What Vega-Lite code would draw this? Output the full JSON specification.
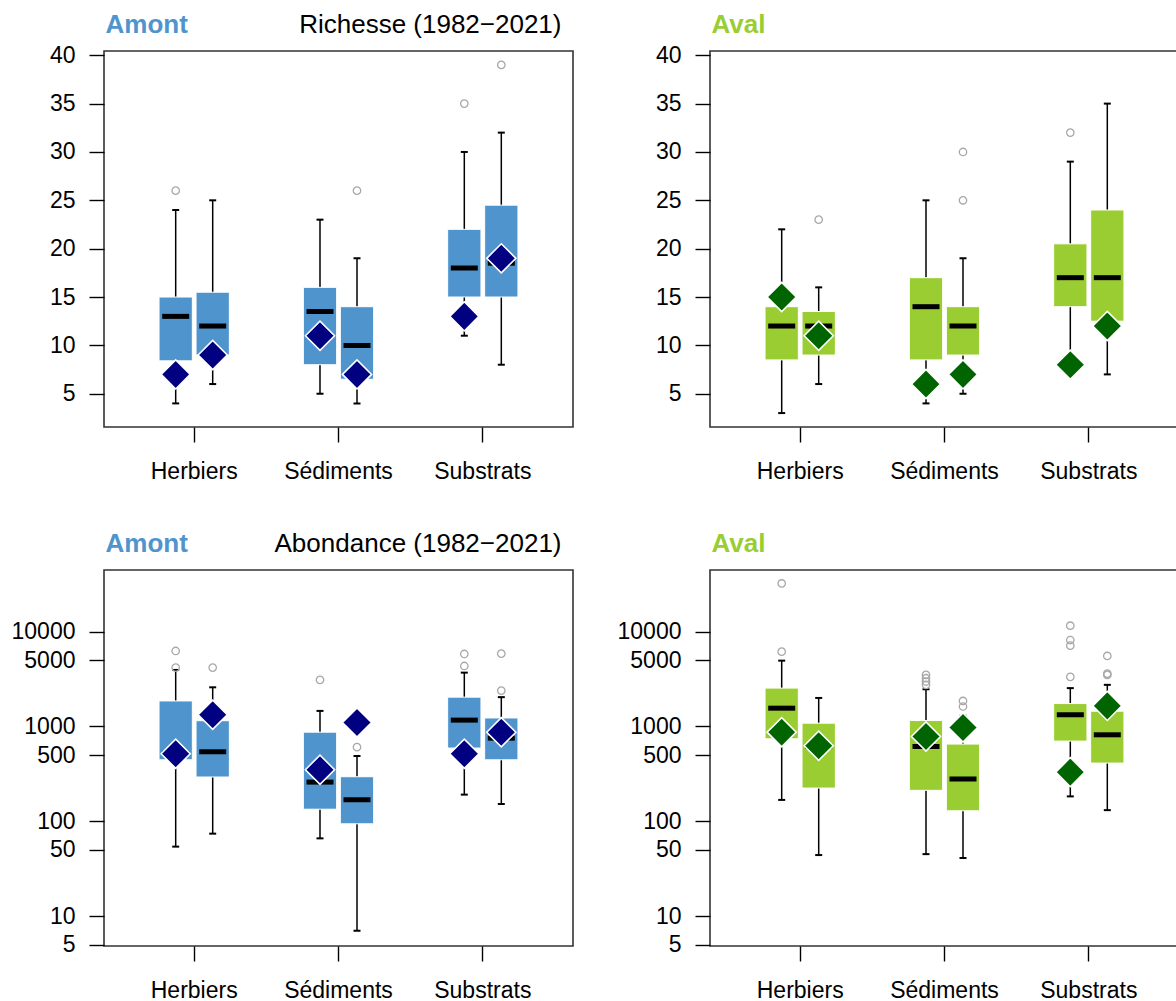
{
  "$schema": "https://vega.github.io/schema/vega-lite/v6.json",
  "padding": {"left": 10, "top": 10, "right": 0, "bottom": 0},
  "background": "white",
  "config": {
    "font": "Liberation Sans",
    "view": {"stroke": "#333333", "strokeWidth": 1.6},
    "tick": {"opacity": 1},
    "axis": {"domain": false, "grid": false, "tickColor": "black", "tickWidth": 1.4, "tickSize": 15, "labelFontSize": 23, "labelColor": "black", "labelFont": "Liberation Sans", "titleFont": "Liberation Sans", "titleFontSize": 26},
    "axisX": {"labelPadding": 18, "labelAngle": 0, "titleFontWeight": "normal", "titleColor": "black", "titleAlign": "right", "titleBaseline": "alphabetic", "titleX": 457, "titleY": -395},
    "axisY": {"labelPadding": 14, "titleAngle": 0, "titleAlign": "left", "titleBaseline": "alphabetic", "titleFontWeight": "bold", "titleX": 1, "titleY": -19}
  },
  "datasets": {
    "boxes": [
      {"site": "Amont", "metric": "Richesse", "group": "Herbiers", "box": "1", "lo": 4, "q1": 8.4, "med": 13, "q3": 15, "hi": 24, "cur": 7},
      {"site": "Amont", "metric": "Richesse", "group": "Herbiers", "box": "2", "lo": 6, "q1": 9, "med": 12, "q3": 15.5, "hi": 25, "cur": 9},
      {"site": "Amont", "metric": "Richesse", "group": "Sédiments", "box": "1", "lo": 5, "q1": 8, "med": 13.5, "q3": 16, "hi": 23, "cur": 11},
      {"site": "Amont", "metric": "Richesse", "group": "Sédiments", "box": "2", "lo": 4, "q1": 6.5, "med": 10, "q3": 14, "hi": 19, "cur": 7},
      {"site": "Amont", "metric": "Richesse", "group": "Substrats", "box": "1", "lo": 11, "q1": 15, "med": 18, "q3": 22, "hi": 30, "cur": 13},
      {"site": "Amont", "metric": "Richesse", "group": "Substrats", "box": "2", "lo": 8, "q1": 15, "med": 18.5, "q3": 24.5, "hi": 32, "cur": 19},
      {"site": "Aval", "metric": "Richesse", "group": "Herbiers", "box": "1", "lo": 3, "q1": 8.5, "med": 12, "q3": 14, "hi": 22, "cur": 15},
      {"site": "Aval", "metric": "Richesse", "group": "Herbiers", "box": "2", "lo": 6, "q1": 9, "med": 12, "q3": 13.5, "hi": 16, "cur": 11},
      {"site": "Aval", "metric": "Richesse", "group": "Sédiments", "box": "1", "lo": 4, "q1": 8.5, "med": 14, "q3": 17, "hi": 25, "cur": 6},
      {"site": "Aval", "metric": "Richesse", "group": "Sédiments", "box": "2", "lo": 5, "q1": 9, "med": 12, "q3": 14, "hi": 19, "cur": 7},
      {"site": "Aval", "metric": "Richesse", "group": "Substrats", "box": "1", "lo": 8, "q1": 14, "med": 17, "q3": 20.5, "hi": 29, "cur": 8},
      {"site": "Aval", "metric": "Richesse", "group": "Substrats", "box": "2", "lo": 7, "q1": 12.5, "med": 17, "q3": 24, "hi": 35, "cur": 12},
      {"site": "Amont", "metric": "Abondance", "group": "Herbiers", "box": "1", "lo": 54, "q1": 445, "med": 520, "q3": 1860, "hi": 3950, "cur": 515},
      {"site": "Amont", "metric": "Abondance", "group": "Herbiers", "box": "2", "lo": 74, "q1": 293, "med": 541, "q3": 1150, "hi": 2590, "cur": 1330},
      {"site": "Amont", "metric": "Abondance", "group": "Sédiments", "box": "1", "lo": 66, "q1": 134, "med": 259, "q3": 871, "hi": 1460, "cur": 350},
      {"site": "Amont", "metric": "Abondance", "group": "Sédiments", "box": "2", "lo": 7, "q1": 94, "med": 169, "q3": 295, "hi": 488, "cur": 1100},
      {"site": "Amont", "metric": "Abondance", "group": "Substrats", "box": "1", "lo": 191, "q1": 592, "med": 1167, "q3": 2040, "hi": 3700, "cur": 515},
      {"site": "Amont", "metric": "Abondance", "group": "Substrats", "box": "2", "lo": 152, "q1": 445, "med": 753, "q3": 1230, "hi": 2040, "cur": 870},
      {"site": "Aval", "metric": "Abondance", "group": "Herbiers", "box": "1", "lo": 168, "q1": 741, "med": 1560, "q3": 2540, "hi": 4950, "cur": 871},
      {"site": "Aval", "metric": "Abondance", "group": "Herbiers", "box": "2", "lo": 44, "q1": 224, "med": 620, "q3": 1084, "hi": 2000, "cur": 626},
      {"site": "Aval", "metric": "Abondance", "group": "Sédiments", "box": "1", "lo": 45, "q1": 212, "med": 615, "q3": 1155, "hi": 2470, "cur": 785},
      {"site": "Aval", "metric": "Abondance", "group": "Sédiments", "box": "2", "lo": 41, "q1": 129, "med": 279, "q3": 652, "hi": 1300, "cur": 975},
      {"site": "Aval", "metric": "Abondance", "group": "Substrats", "box": "1", "lo": 183, "q1": 701, "med": 1330, "q3": 1745, "hi": 2540, "cur": 330},
      {"site": "Aval", "metric": "Abondance", "group": "Substrats", "box": "2", "lo": 131, "q1": 411, "med": 817, "q3": 1450, "hi": 2750, "cur": 1650}
    ],
    "outliers": [
      {"site": "Amont", "metric": "Richesse", "group": "Herbiers", "box": "1", "value": 26},
      {"site": "Amont", "metric": "Richesse", "group": "Sédiments", "box": "2", "value": 26},
      {"site": "Amont", "metric": "Richesse", "group": "Substrats", "box": "1", "value": 35},
      {"site": "Amont", "metric": "Richesse", "group": "Substrats", "box": "2", "value": 39},
      {"site": "Aval", "metric": "Richesse", "group": "Herbiers", "box": "2", "value": 23},
      {"site": "Aval", "metric": "Richesse", "group": "Sédiments", "box": "2", "value": 30},
      {"site": "Aval", "metric": "Richesse", "group": "Sédiments", "box": "2", "value": 25},
      {"site": "Aval", "metric": "Richesse", "group": "Substrats", "box": "1", "value": 32},
      {"site": "Amont", "metric": "Abondance", "group": "Herbiers", "box": "1", "value": 6260},
      {"site": "Amont", "metric": "Abondance", "group": "Herbiers", "box": "1", "value": 4180},
      {"site": "Amont", "metric": "Abondance", "group": "Herbiers", "box": "2", "value": 4180},
      {"site": "Amont", "metric": "Abondance", "group": "Sédiments", "box": "1", "value": 3100},
      {"site": "Amont", "metric": "Abondance", "group": "Sédiments", "box": "2", "value": 605},
      {"site": "Amont", "metric": "Abondance", "group": "Substrats", "box": "1", "value": 5820},
      {"site": "Amont", "metric": "Abondance", "group": "Substrats", "box": "1", "value": 4350},
      {"site": "Amont", "metric": "Abondance", "group": "Substrats", "box": "2", "value": 5870},
      {"site": "Amont", "metric": "Abondance", "group": "Substrats", "box": "2", "value": 2390},
      {"site": "Aval", "metric": "Abondance", "group": "Herbiers", "box": "1", "value": 32300},
      {"site": "Aval", "metric": "Abondance", "group": "Herbiers", "box": "1", "value": 6160},
      {"site": "Aval", "metric": "Abondance", "group": "Sédiments", "box": "1", "value": 3500},
      {"site": "Aval", "metric": "Abondance", "group": "Sédiments", "box": "1", "value": 3230},
      {"site": "Aval", "metric": "Abondance", "group": "Sédiments", "box": "1", "value": 2980},
      {"site": "Aval", "metric": "Abondance", "group": "Sédiments", "box": "1", "value": 2750},
      {"site": "Aval", "metric": "Abondance", "group": "Sédiments", "box": "2", "value": 1860},
      {"site": "Aval", "metric": "Abondance", "group": "Sédiments", "box": "2", "value": 1625},
      {"site": "Aval", "metric": "Abondance", "group": "Substrats", "box": "1", "value": 11570},
      {"site": "Aval", "metric": "Abondance", "group": "Substrats", "box": "1", "value": 8170},
      {"site": "Aval", "metric": "Abondance", "group": "Substrats", "box": "1", "value": 7130},
      {"site": "Aval", "metric": "Abondance", "group": "Substrats", "box": "1", "value": 3340},
      {"site": "Aval", "metric": "Abondance", "group": "Substrats", "box": "2", "value": 5550},
      {"site": "Aval", "metric": "Abondance", "group": "Substrats", "box": "2", "value": 3610},
      {"site": "Aval", "metric": "Abondance", "group": "Substrats", "box": "2", "value": 3500}
    ]
  },
  "columns": 2,
  "spacing": {"row": 143, "column": 137},
  "bounds": "flush",
  "concat": [
    {
      "width": 469, "height": 376,
      "encoding": {
        "x": {"field": "group", "type": "nominal", "title": "Richesse (1982−2021)", "scale": {"domain": ["Herbiers", "Sédiments", "Substrats"], "paddingInner": 0, "paddingOuter": 0.125}},
        "xOffset": {"field": "box", "type": "nominal", "scale": {"domain": ["1", "2"], "paddingInner": 0.1, "paddingOuter": 1.1115}}
      },
      "layer": [
        {"data": {"name": "boxes"}, "transform": [{"filter": "datum.site == 'Amont' && datum.metric == 'Richesse'"}], "mark": {"type": "rule", "color": "black", "strokeWidth": 1.5},
         "encoding": {"y": {"field": "lo", "type": "quantitative", "title": "Amont", "scale": {"domain": [1.56, 40.44], "nice": false, "zero": false}, "axis": {"values": [5, 10, 15, 20, 25, 30, 35, 40], "titleColor": "#4F94CD"}}, "y2": {"field": "hi"}}},
        {"data": {"name": "boxes"}, "transform": [{"filter": "datum.site == 'Amont' && datum.metric == 'Richesse'"}], "mark": {"type": "tick", "orient": "horizontal", "color": "black", "opacity": 1, "thickness": 2, "size": 7},
         "encoding": {"y": {"field": "lo", "type": "quantitative", "title": "Amont", "scale": {"domain": [1.56, 40.44], "nice": false, "zero": false}}}},
        {"data": {"name": "boxes"}, "transform": [{"filter": "datum.site == 'Amont' && datum.metric == 'Richesse'"}], "mark": {"type": "tick", "orient": "horizontal", "color": "black", "opacity": 1, "thickness": 2, "size": 7},
         "encoding": {"y": {"field": "hi", "type": "quantitative", "title": "Amont", "scale": {"domain": [1.56, 40.44], "nice": false, "zero": false}}}},
        {"data": {"name": "boxes"}, "transform": [{"filter": "datum.site == 'Amont' && datum.metric == 'Richesse'"}], "mark": {"type": "bar", "color": "#4F94CD", "stroke": "white", "strokeWidth": 1},
         "encoding": {"y": {"field": "q1", "type": "quantitative", "title": "Amont", "scale": {"domain": [1.56, 40.44], "nice": false, "zero": false}}, "y2": {"field": "q3"}}},
        {"data": {"name": "boxes"}, "transform": [{"filter": "datum.site == 'Amont' && datum.metric == 'Richesse'"}], "mark": {"type": "tick", "orient": "horizontal", "color": "black", "opacity": 1, "thickness": 5, "size": 27},
         "encoding": {"y": {"field": "med", "type": "quantitative", "title": "Amont", "scale": {"domain": [1.56, 40.44], "nice": false, "zero": false}}}},
        {"data": {"name": "outliers"}, "transform": [{"filter": "datum.site == 'Amont' && datum.metric == 'Richesse'"}], "mark": {"type": "point", "shape": "circle", "filled": false, "color": "#a8a8a8", "size": 55, "strokeWidth": 1.3, "opacity": 1},
         "encoding": {"y": {"field": "value", "type": "quantitative", "title": "Amont", "scale": {"domain": [1.56, 40.44], "nice": false, "zero": false}}}},
        {"data": {"name": "boxes"}, "transform": [{"filter": "datum.site == 'Amont' && datum.metric == 'Richesse'"}], "mark": {"type": "point", "shape": "diamond", "filled": true, "fill": "#000080", "stroke": "white", "strokeWidth": 1.6, "size": 850, "opacity": 1},
         "encoding": {"y": {"field": "cur", "type": "quantitative", "title": "Amont", "scale": {"domain": [1.56, 40.44], "nice": false, "zero": false}}}}
      ]
    },
    {
      "width": 469, "height": 376,
      "encoding": {
        "x": {"field": "group", "type": "nominal", "title": null, "scale": {"domain": ["Herbiers", "Sédiments", "Substrats"], "paddingInner": 0, "paddingOuter": 0.125}},
        "xOffset": {"field": "box", "type": "nominal", "scale": {"domain": ["1", "2"], "paddingInner": 0.1, "paddingOuter": 1.1115}}
      },
      "layer": [
        {"data": {"name": "boxes"}, "transform": [{"filter": "datum.site == 'Aval' && datum.metric == 'Richesse'"}], "mark": {"type": "rule", "color": "black", "strokeWidth": 1.5},
         "encoding": {"y": {"field": "lo", "type": "quantitative", "title": "Aval", "scale": {"domain": [1.56, 40.44], "nice": false, "zero": false}, "axis": {"values": [5, 10, 15, 20, 25, 30, 35, 40], "titleColor": "#9ACD32"}}, "y2": {"field": "hi"}}},
        {"data": {"name": "boxes"}, "transform": [{"filter": "datum.site == 'Aval' && datum.metric == 'Richesse'"}], "mark": {"type": "tick", "orient": "horizontal", "color": "black", "opacity": 1, "thickness": 2, "size": 7},
         "encoding": {"y": {"field": "lo", "type": "quantitative", "title": "Aval", "scale": {"domain": [1.56, 40.44], "nice": false, "zero": false}}}},
        {"data": {"name": "boxes"}, "transform": [{"filter": "datum.site == 'Aval' && datum.metric == 'Richesse'"}], "mark": {"type": "tick", "orient": "horizontal", "color": "black", "opacity": 1, "thickness": 2, "size": 7},
         "encoding": {"y": {"field": "hi", "type": "quantitative", "title": "Aval", "scale": {"domain": [1.56, 40.44], "nice": false, "zero": false}}}},
        {"data": {"name": "boxes"}, "transform": [{"filter": "datum.site == 'Aval' && datum.metric == 'Richesse'"}], "mark": {"type": "bar", "color": "#9ACD32", "stroke": "white", "strokeWidth": 1},
         "encoding": {"y": {"field": "q1", "type": "quantitative", "title": "Aval", "scale": {"domain": [1.56, 40.44], "nice": false, "zero": false}}, "y2": {"field": "q3"}}},
        {"data": {"name": "boxes"}, "transform": [{"filter": "datum.site == 'Aval' && datum.metric == 'Richesse'"}], "mark": {"type": "tick", "orient": "horizontal", "color": "black", "opacity": 1, "thickness": 5, "size": 27},
         "encoding": {"y": {"field": "med", "type": "quantitative", "title": "Aval", "scale": {"domain": [1.56, 40.44], "nice": false, "zero": false}}}},
        {"data": {"name": "outliers"}, "transform": [{"filter": "datum.site == 'Aval' && datum.metric == 'Richesse'"}], "mark": {"type": "point", "shape": "circle", "filled": false, "color": "#a8a8a8", "size": 55, "strokeWidth": 1.3, "opacity": 1},
         "encoding": {"y": {"field": "value", "type": "quantitative", "title": "Aval", "scale": {"domain": [1.56, 40.44], "nice": false, "zero": false}}}},
        {"data": {"name": "boxes"}, "transform": [{"filter": "datum.site == 'Aval' && datum.metric == 'Richesse'"}], "mark": {"type": "point", "shape": "diamond", "filled": true, "fill": "#006400", "stroke": "white", "strokeWidth": 1.6, "size": 850, "opacity": 1},
         "encoding": {"y": {"field": "cur", "type": "quantitative", "title": "Aval", "scale": {"domain": [1.56, 40.44], "nice": false, "zero": false}}}}
      ]
    },
    {
      "width": 469, "height": 376,
      "encoding": {
        "x": {"field": "group", "type": "nominal", "title": "Abondance (1982−2021)", "scale": {"domain": ["Herbiers", "Sédiments", "Substrats"], "paddingInner": 0, "paddingOuter": 0.125}},
        "xOffset": {"field": "box", "type": "nominal", "scale": {"domain": ["1", "2"], "paddingInner": 0.1, "paddingOuter": 1.1115}}
      },
      "layer": [
        {"data": {"name": "boxes"}, "transform": [{"filter": "datum.site == 'Amont' && datum.metric == 'Abondance'"}], "mark": {"type": "rule", "color": "black", "strokeWidth": 1.5},
         "encoding": {"y": {"field": "lo", "type": "quantitative", "title": "Amont", "scale": {"type": "log", "domain": [4.83, 44770], "nice": false}, "axis": {"values": [5, 10, 50, 100, 500, 1000, 5000, 10000], "format": "d", "titleColor": "#4F94CD"}}, "y2": {"field": "hi"}}},
        {"data": {"name": "boxes"}, "transform": [{"filter": "datum.site == 'Amont' && datum.metric == 'Abondance'"}], "mark": {"type": "tick", "orient": "horizontal", "color": "black", "opacity": 1, "thickness": 2, "size": 7},
         "encoding": {"y": {"field": "lo", "type": "quantitative", "title": "Amont", "scale": {"type": "log", "domain": [4.83, 44770], "nice": false}}}},
        {"data": {"name": "boxes"}, "transform": [{"filter": "datum.site == 'Amont' && datum.metric == 'Abondance'"}], "mark": {"type": "tick", "orient": "horizontal", "color": "black", "opacity": 1, "thickness": 2, "size": 7},
         "encoding": {"y": {"field": "hi", "type": "quantitative", "title": "Amont", "scale": {"type": "log", "domain": [4.83, 44770], "nice": false}}}},
        {"data": {"name": "boxes"}, "transform": [{"filter": "datum.site == 'Amont' && datum.metric == 'Abondance'"}], "mark": {"type": "bar", "color": "#4F94CD", "stroke": "white", "strokeWidth": 1},
         "encoding": {"y": {"field": "q1", "type": "quantitative", "title": "Amont", "scale": {"type": "log", "domain": [4.83, 44770], "nice": false}}, "y2": {"field": "q3"}}},
        {"data": {"name": "boxes"}, "transform": [{"filter": "datum.site == 'Amont' && datum.metric == 'Abondance'"}], "mark": {"type": "tick", "orient": "horizontal", "color": "black", "opacity": 1, "thickness": 5, "size": 27},
         "encoding": {"y": {"field": "med", "type": "quantitative", "title": "Amont", "scale": {"type": "log", "domain": [4.83, 44770], "nice": false}}}},
        {"data": {"name": "outliers"}, "transform": [{"filter": "datum.site == 'Amont' && datum.metric == 'Abondance'"}], "mark": {"type": "point", "shape": "circle", "filled": false, "color": "#a8a8a8", "size": 55, "strokeWidth": 1.3, "opacity": 1},
         "encoding": {"y": {"field": "value", "type": "quantitative", "title": "Amont", "scale": {"type": "log", "domain": [4.83, 44770], "nice": false}}}},
        {"data": {"name": "boxes"}, "transform": [{"filter": "datum.site == 'Amont' && datum.metric == 'Abondance'"}], "mark": {"type": "point", "shape": "diamond", "filled": true, "fill": "#000080", "stroke": "white", "strokeWidth": 1.6, "size": 850, "opacity": 1},
         "encoding": {"y": {"field": "cur", "type": "quantitative", "title": "Amont", "scale": {"type": "log", "domain": [4.83, 44770], "nice": false}}}}
      ]
    },
    {
      "width": 469, "height": 376,
      "encoding": {
        "x": {"field": "group", "type": "nominal", "title": null, "scale": {"domain": ["Herbiers", "Sédiments", "Substrats"], "paddingInner": 0, "paddingOuter": 0.125}},
        "xOffset": {"field": "box", "type": "nominal", "scale": {"domain": ["1", "2"], "paddingInner": 0.1, "paddingOuter": 1.1115}}
      },
      "layer": [
        {"data": {"name": "boxes"}, "transform": [{"filter": "datum.site == 'Aval' && datum.metric == 'Abondance'"}], "mark": {"type": "rule", "color": "black", "strokeWidth": 1.5},
         "encoding": {"y": {"field": "lo", "type": "quantitative", "title": "Aval", "scale": {"type": "log", "domain": [4.83, 44770], "nice": false}, "axis": {"values": [5, 10, 50, 100, 500, 1000, 5000, 10000], "format": "d", "titleColor": "#9ACD32"}}, "y2": {"field": "hi"}}},
        {"data": {"name": "boxes"}, "transform": [{"filter": "datum.site == 'Aval' && datum.metric == 'Abondance'"}], "mark": {"type": "tick", "orient": "horizontal", "color": "black", "opacity": 1, "thickness": 2, "size": 7},
         "encoding": {"y": {"field": "lo", "type": "quantitative", "title": "Aval", "scale": {"type": "log", "domain": [4.83, 44770], "nice": false}}}},
        {"data": {"name": "boxes"}, "transform": [{"filter": "datum.site == 'Aval' && datum.metric == 'Abondance'"}], "mark": {"type": "tick", "orient": "horizontal", "color": "black", "opacity": 1, "thickness": 2, "size": 7},
         "encoding": {"y": {"field": "hi", "type": "quantitative", "title": "Aval", "scale": {"type": "log", "domain": [4.83, 44770], "nice": false}}}},
        {"data": {"name": "boxes"}, "transform": [{"filter": "datum.site == 'Aval' && datum.metric == 'Abondance'"}], "mark": {"type": "bar", "color": "#9ACD32", "stroke": "white", "strokeWidth": 1},
         "encoding": {"y": {"field": "q1", "type": "quantitative", "title": "Aval", "scale": {"type": "log", "domain": [4.83, 44770], "nice": false}}, "y2": {"field": "q3"}}},
        {"data": {"name": "boxes"}, "transform": [{"filter": "datum.site == 'Aval' && datum.metric == 'Abondance'"}], "mark": {"type": "tick", "orient": "horizontal", "color": "black", "opacity": 1, "thickness": 5, "size": 27},
         "encoding": {"y": {"field": "med", "type": "quantitative", "title": "Aval", "scale": {"type": "log", "domain": [4.83, 44770], "nice": false}}}},
        {"data": {"name": "outliers"}, "transform": [{"filter": "datum.site == 'Aval' && datum.metric == 'Abondance'"}], "mark": {"type": "point", "shape": "circle", "filled": false, "color": "#a8a8a8", "size": 55, "strokeWidth": 1.3, "opacity": 1},
         "encoding": {"y": {"field": "value", "type": "quantitative", "title": "Aval", "scale": {"type": "log", "domain": [4.83, 44770], "nice": false}}}},
        {"data": {"name": "boxes"}, "transform": [{"filter": "datum.site == 'Aval' && datum.metric == 'Abondance'"}], "mark": {"type": "point", "shape": "diamond", "filled": true, "fill": "#006400", "stroke": "white", "strokeWidth": 1.6, "size": 850, "opacity": 1},
         "encoding": {"y": {"field": "cur", "type": "quantitative", "title": "Aval", "scale": {"type": "log", "domain": [4.83, 44770], "nice": false}}}}
      ]
    }
  ]
}
